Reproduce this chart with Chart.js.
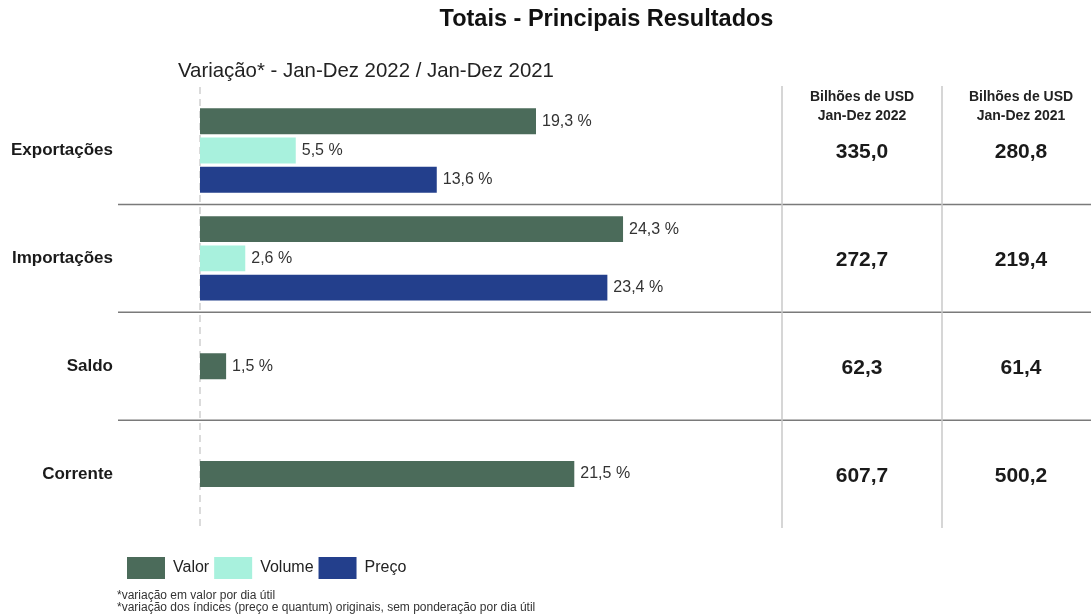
<!DOCTYPE html>
<html lang="pt-BR">
<head>
<meta charset="utf-8">
<title>Totais - Principais Resultados</title>
<script src="https://cdn.jsdelivr.net/npm/chart.js@4.4.0/dist/chart.umd.min.js"></script>
<style>
  html, body { margin: 0; padding: 0; background: #fff; }
  #grafico { display: block; }
</style>
</head>
<body>
<canvas id="grafico" width="1091" height="614"></canvas>
<script>
// dados do grafico
var categorias = ['Exportações', 'Importações', 'Saldo', 'Corrente'];
var valor  = [19.3, 24.3, 1.5, 21.5];
var volume = [5.5, 2.6, null, null];
var preco  = [13.6, 23.4, null, null];

// tabela da direita (bilhoes de USD)
var cabecalho2022 = ['Bilhões de USD', 'Jan-Dez 2022'];
var cabecalho2021 = ['Bilhões de USD', 'Jan-Dez 2021'];
var usd2022 = [335.0, 272.7, 62.3, 607.7];
var usd2021 = [280.8, 219.4, 61.4, 500.2];

var subtitulo = 'Variação* - Jan-Dez 2022 / Jan-Dez 2021';
var notas = [
  '*variação em valor por dia útil',
  '*variação dos índices (preço e quantum) originais, sem ponderação por dia útil'
];

function fmt(v) {
  return v.toFixed(1).replace('.', ',');
}

Chart.defaults.font.family = "'Liberation Sans', Arial, sans-serif";
Chart.defaults.color = '#222';

// linhas, tabela, rotulos e notas
var extras = {
  id: 'extras',
  beforeDatasetsDraw: function(chart) {
    var ctx = chart.ctx;
    var y = chart.scales.y;
    var x = chart.scales.x;
    var area = chart.chartArea;
    ctx.save();

    // separadores horizontais entre categorias
    ctx.strokeStyle = '#7a7a7a';
    ctx.lineWidth = 1.5;
    for (var i = 0; i < categorias.length - 1; i++) {
      var ym = (y.getPixelForValue(i) + y.getPixelForValue(i + 1)) / 2;
      ctx.beginPath();
      ctx.moveTo(118, ym);
      ctx.lineTo(chart.width, ym);
      ctx.stroke();
    }

    // colunas da tabela
    ctx.strokeStyle = '#c8c8c8';
    [782, 942].forEach(function(cx) {
      ctx.beginPath();
      ctx.moveTo(cx, 86);
      ctx.lineTo(cx, area.bottom);
      ctx.stroke();
    });

    // linha tracejada no zero
    var x0 = x.getPixelForValue(0);
    ctx.strokeStyle = '#cfcfcf';
    ctx.setLineDash([7, 5]);
    ctx.beginPath();
    ctx.moveTo(x0, 87);
    ctx.lineTo(x0, area.bottom);
    ctx.stroke();
    ctx.setLineDash([]);
    ctx.restore();
  },
  afterDatasetsDraw: function(chart) {
    var ctx = chart.ctx;
    var y = chart.scales.y;
    ctx.save();

    // nomes das categorias
    ctx.font = "bold 17px 'Liberation Sans', Arial, sans-serif";
    ctx.fillStyle = '#1a1a1a';
    ctx.textAlign = 'right';
    ctx.textBaseline = 'middle';
    categorias.forEach(function(c, i) {
      ctx.fillText(c, 113, y.getPixelForValue(i));
    });

    // rotulos das barras
    ctx.font = "16px 'Liberation Sans', Arial, sans-serif";
    ctx.fillStyle = '#333';
    ctx.textAlign = 'left';
    chart.data.datasets.forEach(function(ds, di) {
      chart.getDatasetMeta(di).data.forEach(function(bar, i) {
        if (ds.data[i] == null) return;
        ctx.fillText(fmt(ds.data[i]) + ' %', bar.x + 6, bar.y);
      });
    });

    // subtitulo
    ctx.font = "20.4px 'Liberation Sans', Arial, sans-serif";
    ctx.fillStyle = '#222';
    ctx.textBaseline = 'alphabetic';
    ctx.fillText(subtitulo, 178, 77);

    // tabela
    ctx.textAlign = 'center';
    ctx.textBaseline = 'middle';
    ctx.font = "bold 14px 'Liberation Sans', Arial, sans-serif";
    ctx.fillStyle = '#222';
    [[862, cabecalho2022], [1021, cabecalho2021]].forEach(function(c) {
      ctx.fillText(c[1][0], c[0], 97);
      ctx.fillText(c[1][1], c[0], 116);
    });
    ctx.font = "bold 21px 'Liberation Sans', Arial, sans-serif";
    ctx.fillStyle = '#1a1a1a';
    for (var i = 0; i < categorias.length; i++) {
      var yc = y.getPixelForValue(i) + 2;
      ctx.fillText(fmt(usd2022[i]), 862, yc);
      ctx.fillText(fmt(usd2021[i]), 1021, yc);
    }

    // notas de rodape
    ctx.textAlign = 'left';
    ctx.font = "12px 'Liberation Sans', Arial, sans-serif";
    ctx.fillStyle = '#333';
    ctx.fillText(notas[0], 117, 596);
    ctx.fillText(notas[1], 117, 608);
    ctx.restore();
  }
};

var ctxGrafico = document.getElementById('grafico').getContext('2d');
new Chart(ctxGrafico, {
  type: 'bar',
  data: {
    labels: categorias,
    datasets: [
      { label: 'Valor',  data: valor,  backgroundColor: '#4b6b5a' },
      { label: 'Volume', data: volume, backgroundColor: '#a8f1dd' },
      { label: 'Preço',  data: preco,  backgroundColor: '#233f8c' }
    ]
  },
  options: {
    indexAxis: 'y',
    responsive: false,
    animation: false,
    layout: { padding: { left: 122, right: 0, top: 0, bottom: 25 } },
    datasets: {
      bar: {
        skipNull: true,
        categoryPercentage: 0.814,
        barPercentage: 0.887,
        maxBarThickness: 26,
        borderWidth: 0
      }
    },
    scales: {
      x: {
        min: 0,
        max: 51.18,
        grid: { display: false },
        border: { display: false },
        ticks: { display: false },
        afterFit: function(s) { s.height = 24; }
      },
      y: {
        grid: { display: false, drawTicks: false },
        border: { display: false },
        ticks: { display: false },
        afterFit: function(s) { s.width = 78; }
      }
    },
    plugins: {
      title: {
        display: true,
        text: 'Totais - Principais Resultados',
        color: '#111',
        font: { size: 23.5, weight: 'bold' },
        padding: { top: 5, bottom: 63.4 }
      },
      legend: {
        position: 'bottom',
        align: 'start',
        labels: {
          boxWidth: 38,
          boxHeight: 22,
          padding: 5,
          color: '#222',
          font: { size: 16 }
        }
      },
      tooltip: { enabled: false }
    }
  },
  plugins: [extras]
});
</script>
</body>
</html>
